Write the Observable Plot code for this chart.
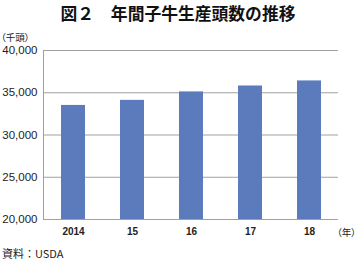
<!DOCTYPE html>
<html>
<head>
<meta charset="utf-8">
<script src="https://cdn.jsdelivr.net/npm/d3@7"></script>
<script src="https://cdn.jsdelivr.net/npm/@observablehq/plot@0.6"></script>
<style>
  html, body { margin: 0; padding: 0; background: #fff; }
  #wrap { position: relative; width: 356px; height: 263px; overflow: hidden; font-family: "Noto Sans CJK JP", "Liberation Sans", sans-serif; }
  #title { position: absolute; left: 0; top: 2px; width: 356px; text-align: center; font-size: 16.8px; font-weight: bold; line-height: 22px; color: #111; }
  #unit { position: absolute; left: 1px; top: 31px; font-size: 9.5px; line-height: 13px; color: #222; font-feature-settings: "palt"; }
  #year { position: absolute; left: 337px; top: 226px; font-size: 9.5px; line-height: 13px; color: #222; font-feature-settings: "palt"; white-space: nowrap; }
  #caption { position: absolute; left: 2px; top: 245px; font-size: 11px; line-height: 16px; color: #222; }
  #chart { position: absolute; left: 0; top: 28px; }
</style>
</head>
<body>
<div id="wrap">
  <div id="title">図２　年間子牛生産頭数の推移</div>
  <div id="chart"></div>
  <div id="unit">（千頭）</div>
  <div id="year">（年）</div>
  <div id="caption">資料：USDA</div>
</div>
<script>
const years = ["2014", "15", "16", "17", "18"];
const calves = [33500, 34100, 35100, 35800, 36400];
const yTicks = [20000, 25000, 30000, 35000, 40000];

const data = years.map((y, i) => ({year: y, value: calves[i]}));

const chart = Plot.plot({
  width: 356,
  height: 218,
  marginLeft: 43,
  marginRight: 18,
  marginTop: 22,
  marginBottom: 27,
  style: {fontFamily: "'Liberation Sans', Arial, sans-serif", color: "#222", background: "transparent"},
  x: {domain: years, paddingInner: 0.6, paddingOuter: 0.3, label: null, tickSize: 0, tickPadding: 8},
  y: {domain: [20000, 40000], ticks: yTicks, label: null, tickSize: 0, tickPadding: 6, tickFormat: d3.format(",")},
  marks: [
    Plot.ruleY(yTicks, {stroke: "#a0a0a0", strokeWidth: 1}),
    Plot.barY(data, {x: "year", y1: 20000, y2: "value", fill: "#5b7bbd"}),
    Plot.frame({anchor: "left", stroke: "#a0a0a0"}),
    Plot.axisY({ticks: yTicks, tickSize: 0, tickPadding: 6, tickFormat: d3.format(","), fontSize: 11.5, label: null}),
    Plot.axisX({tickSize: 0, tickPadding: 8, fontSize: 10, fontWeight: "bold", label: null})
  ]
});
document.getElementById("chart").appendChild(chart);
</script>
</body>
</html>
